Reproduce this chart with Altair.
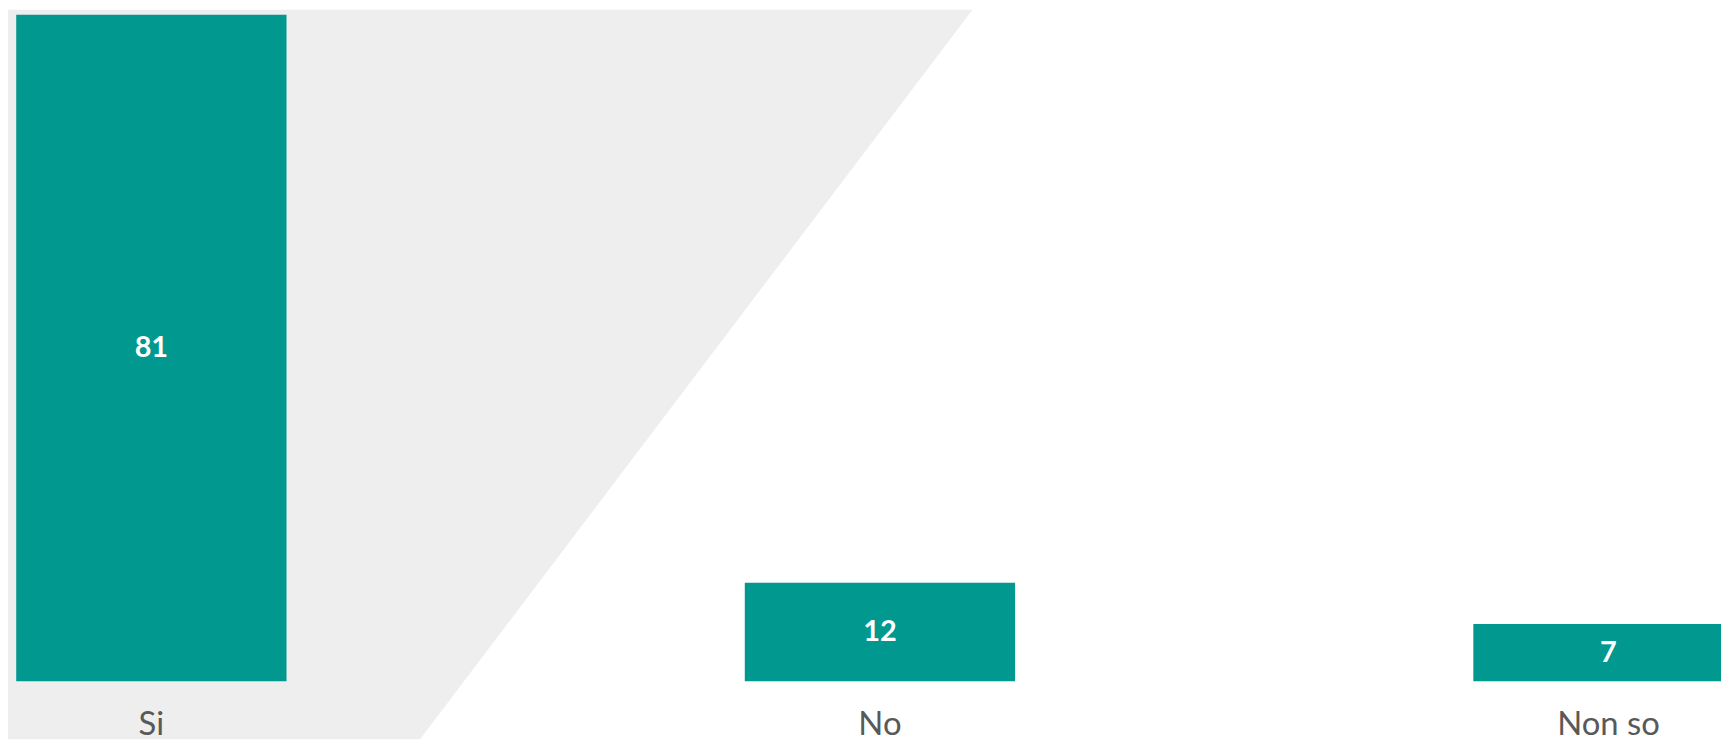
import altair as alt
import pandas as pd

categories = ["Si", "No", "Non so"]
values = [81, 12, 7]

# decorative background band (pixel geometry of the diagonal edge)
band_y = [0, 733]
band_x = [969, 414]

df = pd.DataFrame({"cat": categories, "val": values})
bg = pd.DataFrame({"py": band_y, "px": band_x})

TEAL = "#00988F"

area = alt.Chart(bg).mark_area(orient="horizontal", color="#EEEEEE").encode(
    y=alt.Y("py:Q", scale=None, axis=None),
    x=alt.X("px:Q", scale=None, axis=None),
    x2=alt.value(0),
)

xscale = alt.Scale(range=[0, 1752], paddingInner=0.629, paddingOuter=0.01127)
xaxis = alt.Axis(
    title=None, domain=False, ticks=False, grid=False, labelAngle=0,
    labelFont="Lato", labelFontSize=33, labelColor="#595959",
    labelBaseline="alphabetic", labelPadding=53, labelAlign="center",
    zindex=1,
)
yscale = alt.Scale(domain=[0, 81.6])

base = alt.Chart(df).encode(
    x=alt.X("cat:N", sort=categories, scale=xscale, axis=xaxis),
)

bars = base.mark_bar(color=TEAL, clip=True).encode(
    y=alt.Y("val:Q", scale=yscale, axis=None),
)

labels = base.transform_calculate(half="datum.val / 2").mark_text(
    color="#FFFFFF", font="Lato", fontSize=29, fontWeight="bold", baseline="middle",
    align="center",
).encode(
    y=alt.Y("half:Q", scale=yscale, axis=None),
    text=alt.Text("val:Q"),
)

main = alt.layer(bars, labels)

chart = alt.layer(area, main).resolve_scale(x="independent", y="independent").properties(
    width=1721, height=675,
    autosize=alt.AutoSizeParams(type="none"),
    padding={"left": 0, "top": 0, "right": 0, "bottom": 58},
    background="white",
).configure_view(stroke=None)

chart.save("out.html", embed_options={"renderer": "svg", "actions": False})
